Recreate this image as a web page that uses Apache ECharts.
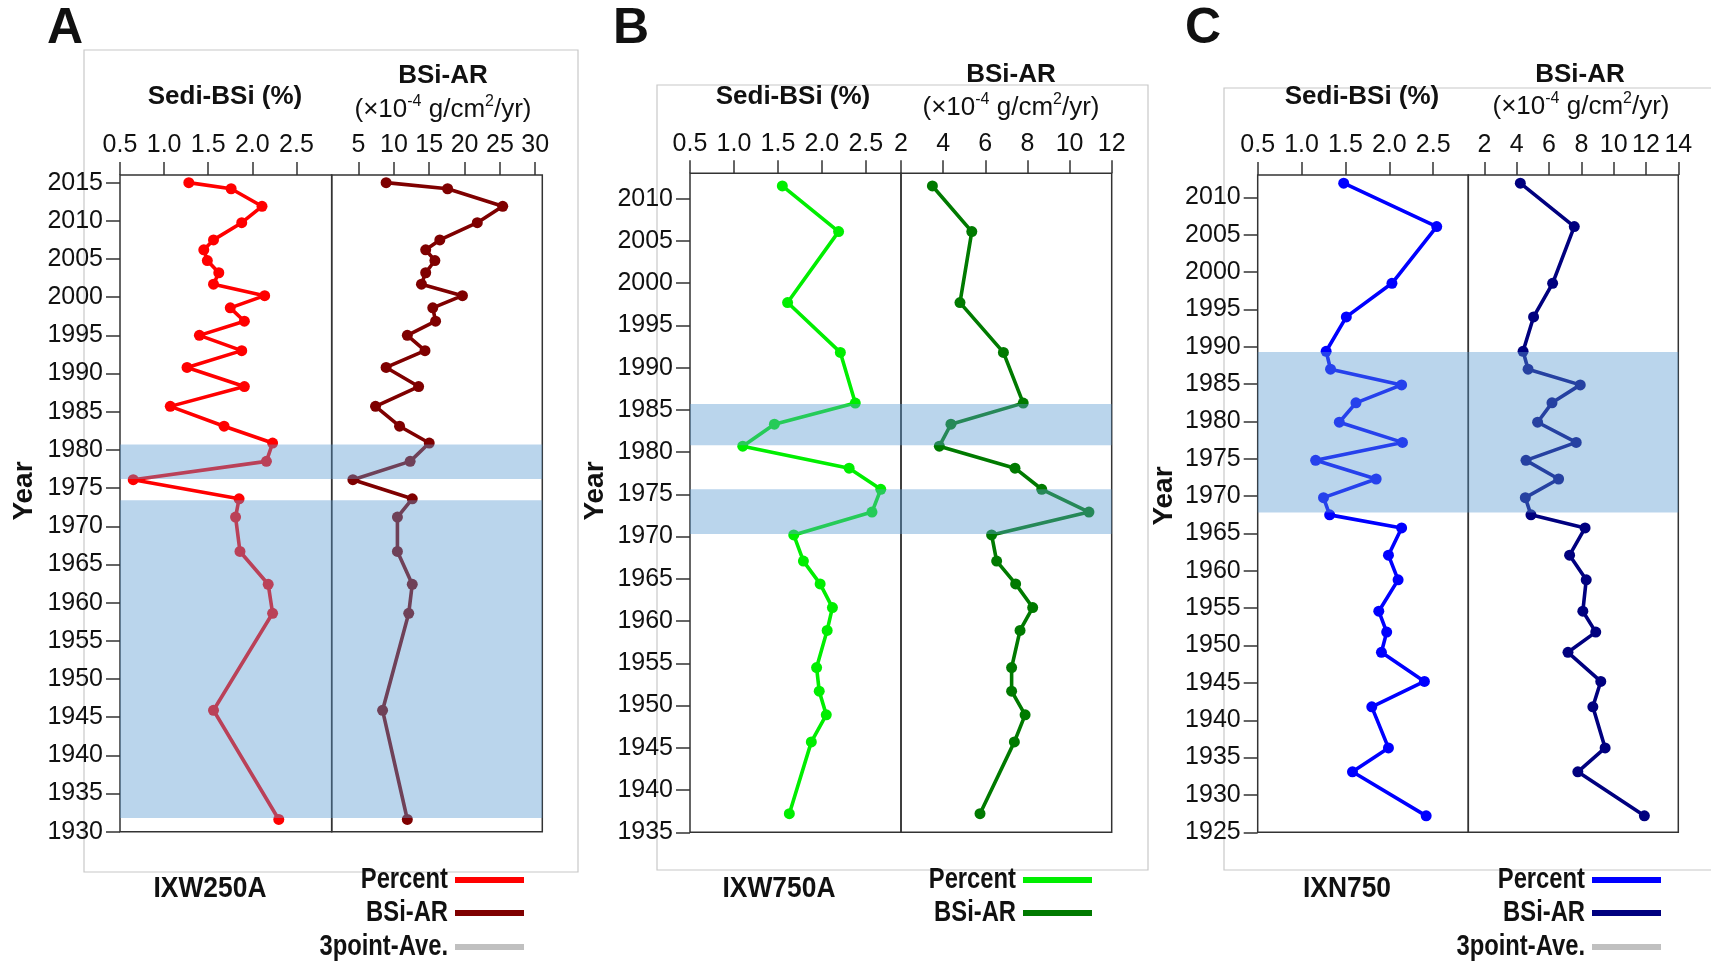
<!DOCTYPE html>
<html><head><meta charset="utf-8">
<script src="https://cdn.jsdelivr.net/npm/echarts@6/dist/echarts.min.js"></script>
<style>html,body{margin:0;padding:0;background:#fff}#c{width:1711px;height:962px}</style>
</head><body><div id="c"></div>
<script>
// ---------- DATA ----------
const yearsA = [2015.0, 2014.2, 2011.9, 2009.75, 2007.5, 2006.2, 2004.8, 2003.2, 2001.7, 2000.2, 1998.6, 1996.85, 1995.0, 1993.0, 1990.8, 1988.3, 1985.7, 1983.1, 1980.9, 1978.5, 1976.1, 1973.6, 1971.2, 1966.7, 1962.4, 1958.6, 1945.9, 1931.6];
const pctA = [1.28, 1.76, 2.11, 1.88, 1.56, 1.45, 1.49, 1.62, 1.56, 2.14, 1.75, 1.91, 1.40, 1.88, 1.26, 1.91, 1.07, 1.68, 2.23, 2.16, 0.65, 1.85, 1.81, 1.86, 2.18, 2.23, 1.56, 2.30];
const arA = [8.9, 17.6, 25.4, 21.8, 16.5, 14.5, 15.8, 14.5, 13.9, 19.7, 15.5, 15.9, 11.9, 14.4, 8.9, 13.5, 7.4, 10.8, 15.0, 12.3, 4.2, 12.6, 10.5, 10.5, 12.6, 12.1, 8.4, 11.9];

const yearsB = [2011.5, 2006.1, 1997.7, 1991.8, 1985.8, 1983.3, 1980.7, 1978.1, 1975.6, 1972.9, 1970.2, 1967.1, 1964.4, 1961.6, 1958.9, 1954.5, 1951.7, 1948.9, 1945.7, 1937.2];
const pctB = [1.55, 2.19, 1.61, 2.21, 2.38, 1.46, 1.10, 2.31, 2.67, 2.57, 1.68, 1.79, 1.98, 2.12, 2.06, 1.94, 1.97, 2.05, 1.88, 1.63];
const arB = [3.49, 5.36, 4.80, 6.86, 7.80, 4.37, 3.82, 7.41, 8.68, 10.92, 6.30, 6.54, 7.44, 8.25, 7.65, 7.25, 7.25, 7.89, 7.38, 5.75];

const yearsC = [2011.9, 2006.1, 1998.5, 1994.0, 1989.4, 1987.0, 1984.9, 1982.5, 1979.9, 1977.2, 1974.8, 1972.3, 1969.8, 1967.5, 1965.75, 1962.1, 1958.8, 1954.6, 1951.8, 1949.1, 1945.2, 1941.8, 1936.3, 1933.1, 1927.2];
const pctC = [1.48, 2.54, 2.03, 1.51, 1.28, 1.33, 2.14, 1.62, 1.43, 2.15, 1.16, 1.85, 1.25, 1.32, 2.14, 1.99, 2.10, 1.88, 1.97, 1.91, 2.40, 1.80, 1.99, 1.58, 2.42];
const arC = [4.22, 7.56, 6.22, 5.04, 4.39, 4.70, 7.93, 6.18, 5.29, 7.68, 4.57, 6.59, 4.53, 4.88, 8.23, 7.27, 8.30, 8.09, 8.89, 7.17, 9.20, 8.71, 9.47, 7.78, 11.90];

const bandsA = [[1976.2, 1980.7], [1931.8, 1973.4]];
const bandsB = [[1980.8, 1985.7], [1970.3, 1975.6]];
const bandsC = [[1967.8, 1989.3]];

const pctTicks = [0.5, 1.0, 1.5, 2.0, 2.5];
const arTicksA = [5, 10, 15, 20, 25, 30];
const arTicksB = [2, 4, 6, 8, 10, 12];
const arTicksC = [2, 4, 6, 8, 10, 12, 14];
const yearTicksA = [1930, 1935, 1940, 1945, 1950, 1955, 1960, 1965, 1970, 1975, 1980, 1985, 1990, 1995, 2000, 2005, 2010, 2015];
const yearTicksB = [1935, 1940, 1945, 1950, 1955, 1960, 1965, 1970, 1975, 1980, 1985, 1990, 1995, 2000, 2005, 2010];
const yearTicksC = [1925, 1930, 1935, 1940, 1945, 1950, 1955, 1960, 1965, 1970, 1975, 1980, 1985, 1990, 1995, 2000, 2005, 2010];

// ---------- BUILD ----------
const SANS = "'Liberation Sans', Arial, sans-serif";
const AXC = '#333';

const grids = [
  {left: 120, top: 175, width: 211.7, height: 656.7},
  {left: 331.7, top: 175, width: 210.6, height: 656.7},
  {left: 690, top: 173.3, width: 211, height: 659},
  {left: 901, top: 173.3, width: 210.7, height: 659},
  {left: 1257.7, top: 175, width: 210.6, height: 657.3},
  {left: 1468.3, top: 175, width: 210, height: 657.3}
].map(g => Object.assign({show: true, borderColor: AXC, borderWidth: 1.5, backgroundColor: 'rgba(0,0,0,0)', containLabel: false, outerBoundsMode: 'none'}, g));

function xAx(gi, min, max, ticks, dec) {
  return {
    type: 'value', gridIndex: gi, position: 'top', min: min, max: max,
    axisLine: {show: false},
    axisTick: {show: true, length: 13, lineStyle: {color: AXC, width: 1.5}, customValues: ticks},
    axisLabel: {show: true, margin: 17, fontSize: 25, fontFamily: SANS, color: '#111', customValues: ticks,
      formatter: v => dec ? Number(v).toFixed(1) : String(Math.round(v))},
    splitLine: {show: false}
  };
}
function yAx(gi, min, max, ticks, show) {
  return {
    type: 'value', gridIndex: gi, min: min, max: max, show: show,
    axisLine: {show: false},
    axisTick: {show: true, length: 14, lineStyle: {color: AXC, width: 1.5}, customValues: ticks},
    axisLabel: {show: true, margin: 17, fontSize: 25, fontFamily: SANS, color: '#111', customValues: ticks,
      formatter: v => String(Math.round(v))},
    splitLine: {show: false}
  };
}

const xAxes = [
  xAx(0, 0.5, 2.9, pctTicks, true), xAx(1, 1.2, 31, arTicksA, false),
  xAx(2, 0.5, 2.9, pctTicks, true), xAx(3, 2, 12, arTicksB, false),
  xAx(4, 0.5, 2.9, pctTicks, true), xAx(5, 1, 14, arTicksC, false)
];
const yAxes = [
  yAx(0, 1930, 2016, yearTicksA, true), yAx(1, 1930, 2016, yearTicksA, false),
  yAx(2, 1935, 2013, yearTicksB, true), yAx(3, 1935, 2013, yearTicksB, false),
  yAx(4, 1925, 2013, yearTicksC, true), yAx(5, 1925, 2013, yearTicksC, false)
];

function lineS(gi, years, vals, color, name) {
  return {
    type: 'line', name: name, xAxisIndex: gi, yAxisIndex: gi, z: 3,
    data: years.map((y, k) => [vals[k], y]),
    symbol: 'circle', symbolSize: 11, showSymbol: true,
    lineStyle: {color: color, width: 3.6}, itemStyle: {color: color},
    emphasis: {disabled: true}
  };
}
function bandS(gi, bands) {
  return {
    type: 'line', xAxisIndex: gi, yAxisIndex: gi, data: [], z: 10, silent: true,
    markArea: {silent: true, z: 10, itemStyle: {color: 'rgba(90,156,210,0.42)', borderWidth: 0},
      data: bands.map(b => [{yAxis: b[0]}, {yAxis: b[1]}])}
  };
}

const series = [
  lineS(0, yearsA, pctA, '#ff0000', 'Percent A'), lineS(1, yearsA, arA, '#7f0000', 'BSi-AR A'),
  lineS(2, yearsB, pctB, '#00ee00', 'Percent B'), lineS(3, yearsB, arB, '#007a00', 'BSi-AR B'),
  lineS(4, yearsC, pctC, '#0000ff', 'Percent C'), lineS(5, yearsC, arC, '#00007f', 'BSi-AR C'),
  bandS(0, bandsA), bandS(1, bandsA), bandS(2, bandsB), bandS(3, bandsB), bandS(4, bandsC), bandS(5, bandsC)
];

// ---------- GRAPHIC (frames, headings, legends) ----------
const g = [];
function rect(x, y, w, h) { g.push({type: 'rect', z: 0, shape: {x: x, y: y, width: w, height: h}, style: {fill: 'none', stroke: '#c8c8c8', lineWidth: 1.2}, silent: true}); }
function txt(x, y, text, size, weight, align, rot, rich, sx) {
  const st = {text: text, x: 0, y: 0, fill: '#111', fontSize: size, fontWeight: weight, fontFamily: SANS,
    align: align, textAlign: align, verticalAlign: 'middle', textVerticalAlign: 'middle'};
  if (rich) st.rich = rich;
  g.push({type: 'text', x: x, y: y, rotation: rot || 0, scaleX: sx || 1, z: 20, style: st, silent: true});
}
function lseg(x1, x2, y, color) { g.push({type: 'line', z: 20, shape: {x1: x1, y1: y, x2: x2, y2: y}, style: {stroke: color, lineWidth: 6}, silent: true}); }

rect(84, 50, 494, 822);
rect(657, 85, 491, 785);
rect(1224, 88, 495, 782);

const unitRich = {
  n: {fontSize: 26, fontFamily: SANS, fill: '#111', lineHeight: 30, verticalAlign: 'bottom'},
  s: {fontSize: 16, fontFamily: SANS, fill: '#111', lineHeight: 30, verticalAlign: 'top', padding: [1, 0, 0, 0]}
};
const unitText = '{n|(×10}{s|-4}{n| g/cm}{s|2}{n|/yr)}';

// panel letters
txt(65, 29, 'A', 50, 'bold', 'center');
txt(631, 29, 'B', 50, 'bold', 'center');
txt(1203, 29, 'C', 50, 'bold', 'center');
// headings
txt(225, 97, 'Sedi-BSi (%)', 26, 'bold', 'center');
txt(443, 76, 'BSi-AR', 26, 'bold', 'center');
txt(443, 108, unitText, 26, 'normal', 'center', 0, unitRich);
txt(793, 97, 'Sedi-BSi (%)', 26, 'bold', 'center');
txt(1011, 75, 'BSi-AR', 26, 'bold', 'center');
txt(1011, 106, unitText, 26, 'normal', 'center', 0, unitRich);
txt(1362, 97, 'Sedi-BSi (%)', 26, 'bold', 'center');
txt(1580, 75, 'BSi-AR', 26, 'bold', 'center');
txt(1581, 105, unitText, 26, 'normal', 'center', 0, unitRich);
// Year labels
txt(24, 491, 'Year', 28, 'bold', 'center', Math.PI / 2);
txt(595, 491, 'Year', 28, 'bold', 'center', Math.PI / 2);
txt(1164, 496, 'Year', 28, 'bold', 'center', Math.PI / 2);
// sample names
txt(210, 889, 'IXW250A', 30, 'bold', 'center', 0, null, 0.88);
txt(779, 889, 'IXW750A', 30, 'bold', 'center', 0, null, 0.88);
txt(1347, 889, 'IXN750', 30, 'bold', 'center', 0, null, 0.88);
// legends
const LS = 29, LX = 0.82;
txt(448, 880, 'Percent', LS, 'bold', 'right', 0, null, LX); lseg(455, 524, 880, '#ff0000');
txt(448, 913, 'BSi-AR', LS, 'bold', 'right', 0, null, LX); lseg(455, 524, 913, '#7f0000');
txt(448, 947, '3point-Ave.', LS, 'bold', 'right', 0, null, LX); lseg(455, 524, 947, '#c0c0c0');
txt(1016, 880, 'Percent', LS, 'bold', 'right', 0, null, LX); lseg(1023, 1092, 880, '#00ee00');
txt(1016, 913, 'BSi-AR', LS, 'bold', 'right', 0, null, LX); lseg(1023, 1092, 913, '#007a00');
txt(1585, 880, 'Percent', LS, 'bold', 'right', 0, null, LX); lseg(1592, 1661, 880, '#0000ff');
txt(1585, 913, 'BSi-AR', LS, 'bold', 'right', 0, null, LX); lseg(1592, 1661, 913, '#00007f');
txt(1585, 947, '3point-Ave.', LS, 'bold', 'right', 0, null, LX); lseg(1592, 1661, 947, '#c0c0c0');

const chart = echarts.init(document.getElementById('c'), null, {renderer: 'canvas'});
chart.setOption({
  animation: false,
  backgroundColor: '#fff',
  grid: grids, xAxis: xAxes, yAxis: yAxes, series: series, graphic: g
});
</script></body></html>
